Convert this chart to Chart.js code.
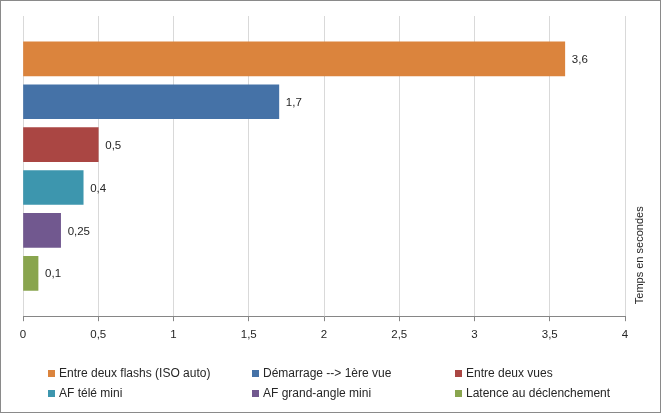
<!DOCTYPE html>
<html>
<head>
<meta charset="utf-8">
<script src="https://cdn.jsdelivr.net/npm/chart.js@4"></script>
<style>
  body { margin: 0; background: #fff; }
  #cadre {
    position: relative;
    width: 661px; height: 413px;
    box-sizing: border-box;
    border: 1px solid #8a8a8a;
    font-family: "Liberation Sans", Arial, sans-serif;
  }
  #graphique { position: absolute; left: 0; top: 0; }
  .leyenda {
    position: absolute;
    font-size: 12px;
    color: #262626;
    white-space: nowrap;
    line-height: 14px;
  }
  .leyenda i {
    display: inline-block;
    width: 7px; height: 7px;
    margin-right: 4px;
    vertical-align: 0px;
  }
</style>
</head>
<body>
<div id="cadre">
  <canvas id="graphique" width="659" height="411"></canvas>
</div>
<script>
// Données
const categories = [
  "Entre deux flashs (ISO auto)",
  "Démarrage --> 1ère vue",
  "Entre deux vues",
  "AF télé mini",
  "AF grand-angle mini",
  "Latence au déclenchement"
];
const temps = [3.6, 1.7, 0.5, 0.4, 0.25, 0.1];
const couleurs = ["#DB843D", "#4572A7", "#AA4643", "#3D96AE", "#71588F", "#89A54E"];
const ticksX = [0, 0.5, 1, 1.5, 2, 2.5, 3, 3.5, 4];
const titreAxe = "Temps en secondes";

const POLICE = '"Liberation Sans", Arial, sans-serif';

function virgule(v) {
  return String(v).replace(".", ",");
}

// étiquettes de valeur à droite des barres
const etiquettes = {
  id: "etiquettes",
  afterDatasetsDraw(chart) {
    const ctx = chart.ctx;
    const meta = chart.getDatasetMeta(0);
    ctx.save();
    ctx.font = "11.5px " + POLICE;
    ctx.fillStyle = "#262626";
    ctx.textAlign = "left";
    ctx.textBaseline = "middle";
    meta.data.forEach((barre, i) => {
      ctx.fillText(virgule(temps[i]), barre.x + 7, barre.y + 1);
    });
    ctx.restore();
  }
};

// titre de l'axe, à droite, lu de bas en haut
const titreDroite = {
  id: "titreDroite",
  afterDraw(chart) {
    const ctx = chart.ctx;
    const zone = chart.chartArea;
    ctx.save();
    ctx.font = "11px " + POLICE;
    ctx.fillStyle = "#262626";
    ctx.translate(zone.right + 15, zone.bottom - 12);
    ctx.rotate(-Math.PI / 2);
    ctx.textAlign = "left";
    ctx.textBaseline = "middle";
    ctx.fillText(titreAxe, 0, 0);
    ctx.restore();
  }
};

const ctx = document.getElementById("graphique").getContext("2d");
const chart = new Chart(ctx, {
  type: "bar",
  data: {
    labels: categories,
    datasets: [{
      data: temps.map((v, i) => ({ x: v, y: i })),
      backgroundColor: couleurs,
      borderWidth: 0,
      barThickness: 34
    }]
  },
  options: {
    indexAxis: "y",
    responsive: false,
    animation: false,
    devicePixelRatio: 1,
    layout: { padding: { left: 22, right: 35, top: 15, bottom: 63 } },
    plugins: {
      legend: { display: false },
      tooltip: { enabled: false }
    },
    scales: {
      y: {
        type: "linear",
        min: -1,
        max: 6,
        offset: false,
        reverse: true,
        display: false
      },
      x: {
        type: "linear",
        min: 0,
        max: 4,
        afterBuildTicks: (axis) => {
          axis.ticks = ticksX.map(v => ({ value: v }));
        },
        grid: {
          color: "#d9d9d9",
          tickColor: "#868686",
          tickLength: 5
        },
        border: { color: "#868686" },
        ticks: {
          padding: 7,
          color: "#262626",
          font: { family: POLICE, size: 11.5 },
          callback: (v) => virgule(v)
        }
      }
    }
  },
  plugins: [etiquettes, titreDroite]
});

// légende en trois colonnes sous le graphique
const colonnesX = [47, 251, 454];
const lignesY = [365, 385];
const cadre = document.getElementById("cadre");
categories.forEach((nom, i) => {
  const el = document.createElement("div");
  el.className = "leyenda";
  el.style.left = colonnesX[i % 3] + "px";
  el.style.top = lignesY[Math.floor(i / 3)] + "px";
  el.innerHTML = '<i style="background:' + couleurs[i] + '"></i>' + nom;
  cadre.appendChild(el);
});
</script>
</body>
</html>
